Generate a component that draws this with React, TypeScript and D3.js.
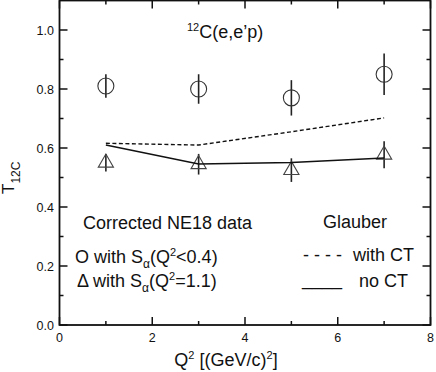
import React from 'react';
import * as d3 from 'd3';

// Q2 points
const q2 = [1, 3, 5, 7];
// circles: S_alpha(Q2<0.4)
const circleVals = [0.81, 0.8, 0.77, 0.85];
const circleErr = [0.04, 0.05, 0.06, 0.07];
// triangles: S_alpha(Q2=1.1)
const triVals = [0.55, 0.545, 0.525, 0.577];
const triErr = [0.03, 0.035, 0.04, 0.046];
// Glauber curves
const withCT = [0.616, 0.61, 0.655, 0.702];
const noCT = [0.61, 0.546, 0.551, 0.566];

const xTicks = [0, 2, 4, 6, 8];
const xMinor = [1, 3, 5, 7];
const yTicks = [0, 0.2, 0.4, 0.6, 0.8, 1.0];
const yMinor = [0.1, 0.3, 0.5, 0.7, 0.9];

const W = 436;
const H = 372;
const left = 59.5;
const right = 430.5;
const top = 0.5;
const bottom = 325;

const font = "'Liberation Sans', Arial, Helvetica, sans-serif";

const App = () => {
  const x = d3.scaleLinear().domain([0, 8]).range([left, right]);
  const y = d3.scaleLinear().domain([0, 1.1]).range([bottom, top]);

  const line = d3.line<number>()
    .x((d, i) => x(q2[i]))
    .y(d => y(d));

  const tri = d3.symbol().type(d3.symbolTriangle).size(100)();

  return (
    <div style={{ position: 'absolute', top: 0, left: 0 }}>
      <svg width={W} height={H} style={{ display: 'block', background: '#fff' }} fontFamily={font}>
        {/* error bars */}
        {q2.map((q, i) => (
          <line key={'ce' + i} x1={x(q)} x2={x(q)} y1={y(circleVals[i] - circleErr[i])} y2={y(circleVals[i] + circleErr[i])}
            stroke="#222" strokeWidth={1.6} />
        ))}
        {q2.map((q, i) => (
          <line key={'te' + i} x1={x(q)} x2={x(q)} y1={y(triVals[i] - triErr[i])} y2={y(triVals[i] + triErr[i])}
            stroke="#222" strokeWidth={1.6} />
        ))}
        {/* circles */}
        {q2.map((q, i) => (
          <circle key={'c' + i} cx={x(q)} cy={y(circleVals[i])} r={8} fill="none" stroke="#333" strokeWidth={1.1} />
        ))}
        {/* triangles */}
        {q2.map((q, i) => (
          <path key={'t' + i} d={tri || ''} transform={`translate(${x(q)},${y(triVals[i])})`} fill="none" stroke="#444" strokeWidth={1.1} />
        ))}
        {/* Glauber curves */}
        <path d={line(withCT) || ''} fill="none" stroke="#111" strokeWidth={1.4} strokeDasharray="4,2.5" />
        <path d={line(noCT) || ''} fill="none" stroke="#111" strokeWidth={1.5} />

        {/* frame */}
        <rect x={left} y={top} width={right - left} height={bottom - top} fill="none" stroke="#111" strokeWidth={1.8} />
        {/* ticks */}
        {xTicks.map(t => (
          <g key={'xt' + t}>
            <line x1={x(t)} x2={x(t)} y1={bottom} y2={bottom - 8} stroke="#111" strokeWidth={1.5} />
            <line x1={x(t)} x2={x(t)} y1={top} y2={top + 8} stroke="#111" strokeWidth={1.5} />
            <text x={x(t)} y={342} textAnchor="middle" fontSize={12.5} fill="#111">{t}</text>
          </g>
        ))}
        {xMinor.map(t => (
          <g key={'xm' + t}>
            <line x1={x(t)} x2={x(t)} y1={bottom} y2={bottom - 4} stroke="#111" strokeWidth={1.5} />
            <line x1={x(t)} x2={x(t)} y1={top} y2={top + 4} stroke="#111" strokeWidth={1.5} />
          </g>
        ))}
        {yTicks.map(t => (
          <g key={'yt' + t}>
            <line x1={left} x2={left + 8} y1={y(t)} y2={y(t)} stroke="#111" strokeWidth={1.5} />
            <line x1={right} x2={right - 8} y1={y(t)} y2={y(t)} stroke="#111" strokeWidth={1.5} />
            <text x={54} y={y(t) + 4.5} textAnchor="end" fontSize={12.5} fill="#111">{d3.format('.1f')(t)}</text>
          </g>
        ))}
        {yMinor.map(t => (
          <g key={'ym' + t}>
            <line x1={left} x2={left + 4} y1={y(t)} y2={y(t)} stroke="#111" strokeWidth={1.5} />
            <line x1={right} x2={right - 4} y1={y(t)} y2={y(t)} stroke="#111" strokeWidth={1.5} />
          </g>
        ))}

        {/* axis titles */}
        <text x={226} y={366} textAnchor="middle" fontSize={18} fill="#111">
          Q<tspan dy={-7} fontSize={11}>2</tspan><tspan dy={7}> [(GeV/c)</tspan><tspan dy={-7} fontSize={11}>2</tspan><tspan dy={7}>]</tspan>
        </text>
        <text transform="translate(14,194) rotate(-90)" fontSize={17} fill="#111">
          T<tspan dy={6} fontSize={12}>12C</tspan>
        </text>

        {/* title */}
        <text x={187} y={38} fontSize={18} fill="#111">
          <tspan dy={-7} fontSize={11}>12</tspan><tspan dy={7}>C(e,e’p)</tspan>
        </text>

        {/* legend: data */}
        <text x={83} y={229} fontSize={18} fill="#111">Corrected NE18 data</text>
        <text x={75} y={263} fontSize={18} fill="#111">
          O with S<tspan dy={5} fontSize={12}>α</tspan><tspan dy={-5}>(Q</tspan><tspan dy={-7} fontSize={11}>2</tspan><tspan dy={7}>&lt;0.4)</tspan>
        </text>
        <text x={77} y={287} fontSize={18} fill="#111">
          Δ with S<tspan dy={5} fontSize={12}>α</tspan><tspan dy={-5}>(Q</tspan><tspan dy={-7} fontSize={11}>2</tspan><tspan dy={7}>=1.1)</tspan>
        </text>

        {/* legend: Glauber */}
        <text x={323} y={228} fontSize={18} fill="#111">Glauber</text>
        <text x={303} y={261} fontSize={18} fill="#111">- - - -</text>
        <text x={353} y={261} fontSize={18} fill="#111">with CT</text>
        <text x={302} y={285} fontSize={18} fill="#111">____</text>
        <text x={359} y={287} fontSize={18} fill="#111">no CT</text>
      </svg>
    </div>
  );
};

export default App;
